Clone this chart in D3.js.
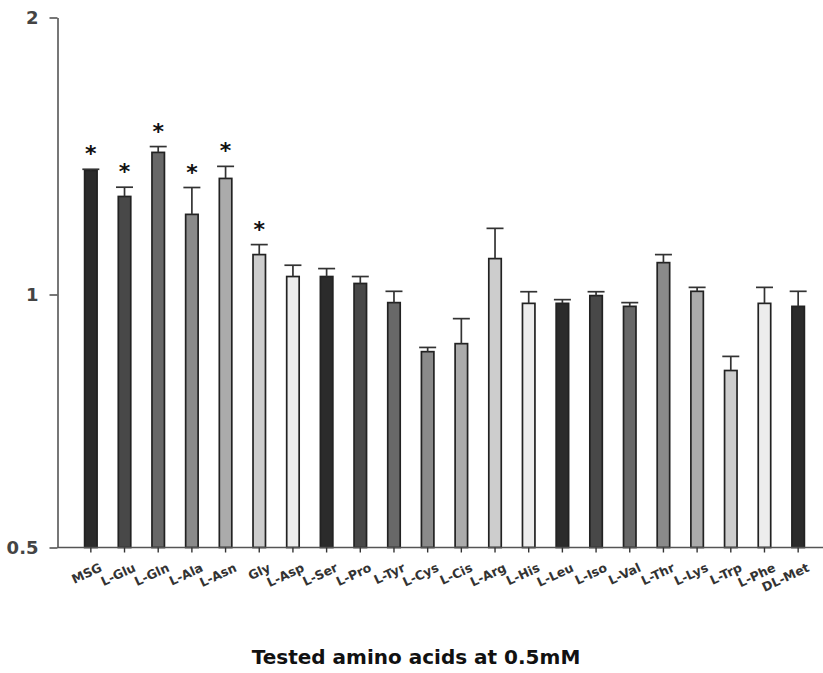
<!DOCTYPE html>
<html>
<head>
<meta charset="utf-8">
<script src="https://cdn.jsdelivr.net/npm/d3@7/dist/d3.min.js"></script>
<style>
  body { margin: 0; background: #fff; }
  svg { display: block; font-family: "DejaVu Sans", Verdana, sans-serif; }
</style>
</head>
<body>
<svg id="chart" width="823" height="673"></svg>
<script>
'use strict';

var categories = ['MSG', 'L-Glu', 'L-Gln', 'L-Ala', 'L-Asn', 'Gly', 'L-Asp', 'L-Ser', 'L-Pro',
  'L-Tyr', 'L-Cys', 'L-Cis', 'L-Arg', 'L-His', 'L-Leu', 'L-Iso', 'L-Val', 'L-Thr', 'L-Lys',
  'L-Trp', 'L-Phe', 'DL-Met'];
var values = [1.364, 1.278, 1.427, 1.222, 1.337, 1.105, 1.046, 1.046, 1.028,
  0.978, 0.855, 0.874, 1.094, 0.976, 0.976, 0.997, 0.968, 1.083, 1.008,
  0.812, 0.976, 0.968];
var errors = [0.004, 0.03, 0.021, 0.085, 0.041, 0.028, 0.03, 0.021, 0.018,
  0.03, 0.01, 0.062, 0.086, 0.031, 0.01, 0.01, 0.01, 0.022, 0.01,
  0.032, 0.042, 0.04];
var significant = ['MSG', 'L-Glu', 'L-Gln', 'L-Ala', 'L-Asn', 'Gly'];
var yTicks = [0.5, 1, 2];
var grays = ['#2b2b2b', '#484848', '#686868', '#8a8a8a', '#ababab', '#cdcdcd', '#ededed'];
var xTitle = 'Tested amino acids at 0.5mM';

var svg = d3.select('#chart');
var axisX = 57.5;
var baseY = 547.5;

var x = d3.scaleBand()
    .domain(categories)
    .range([74, 815])
    .paddingInner(0.63)
    .paddingOuter(0.315);

// the original axis is not a pure log scale, so use a two-piece log
var y = d3.scaleLog()
    .domain([0.5, 1, 2])
    .range([baseY, 294.5, 17.5]);

// bars
svg.append('g').selectAll('rect')
    .data(categories)
  .enter().append('rect')
    .attr('x', function (d) { return x(d); })
    .attr('y', function (d, i) { return y(values[i]); })
    .attr('width', x.bandwidth())
    .attr('height', function (d, i) { return baseY - y(values[i]); })
    .attr('fill', function (d, i) { return grays[i % grays.length]; })
    .attr('stroke', '#222')
    .attr('stroke-width', 1.7);

// error bars
var err = svg.append('g')
    .attr('stroke', '#333')
    .attr('stroke-width', 1.7);
categories.forEach(function (c, i) {
  var cx = x(c) + x.bandwidth() / 2;
  var top = y(values[i] + errors[i]);
  err.append('line')
      .attr('x1', cx).attr('x2', cx)
      .attr('y1', y(values[i])).attr('y2', top);
  err.append('line')
      .attr('x1', cx - 8.5).attr('x2', cx + 8.5)
      .attr('y1', top).attr('y2', top);
});

// significance stars
svg.append('g').selectAll('text')
    .data(significant)
  .enter().append('text')
    .attr('x', function (d) { return x(d) + x.bandwidth() / 2; })
    .attr('y', function (d) {
      var i = categories.indexOf(d);
      return y(values[i] + errors[i]) - 8;
    })
    .attr('text-anchor', 'middle')
    .attr('font-size', 22)
    .attr('font-weight', 'bold')
    .attr('fill', '#111')
    .text('*');

// axes
var yAxis = d3.axisLeft(y)
    .tickValues(yTicks)
    .tickFormat(d3.format('~g'))
    .tickSize(8)
    .tickPadding(11)
    .tickSizeOuter(0);

svg.append('g')
    .attr('transform', 'translate(' + axisX + ',0)')
    .call(yAxis)
    .call(function (g) {
      g.select('.domain').attr('stroke', '#555').attr('stroke-width', 1.6);
      g.selectAll('.tick line').attr('stroke', '#555').attr('stroke-width', 1.6);
      g.selectAll('.tick text')
          .attr('font-size', 18)
          .attr('font-weight', 'bold')
          .attr('font-family', '"DejaVu Sans", Verdana, sans-serif')
          .attr('fill', '#444');
    });

var xAxis = d3.axisBottom(x)
    .tickSize(5)
    .tickSizeOuter(0);

svg.append('g')
    .attr('transform', 'translate(0,' + baseY + ')')
    .call(xAxis)
    .call(function (g) {
      g.select('.domain').attr('d', 'M' + axisX + ',0H823').attr('stroke', '#555').attr('stroke-width', 1.6);
      g.selectAll('.tick line').attr('stroke', '#333').attr('stroke-width', 1.4);
      g.selectAll('.tick text')
          .attr('font-size', 12.5)
          .attr('font-weight', 'bold')
          .attr('font-family', '"DejaVu Sans", Verdana, sans-serif')
          .attr('fill', '#333')
          .attr('text-anchor', 'end')
          .attr('transform', 'translate(5,8) rotate(-25)')
          .attr('dy', '0.7em');
    });

// x title
svg.append('text')
    .attr('x', 416)
    .attr('y', 664)
    .attr('text-anchor', 'middle')
    .attr('font-size', 20)
    .attr('font-weight', 'bold')
    .attr('fill', '#111')
    .text(xTitle);
</script>
</body>
</html>
